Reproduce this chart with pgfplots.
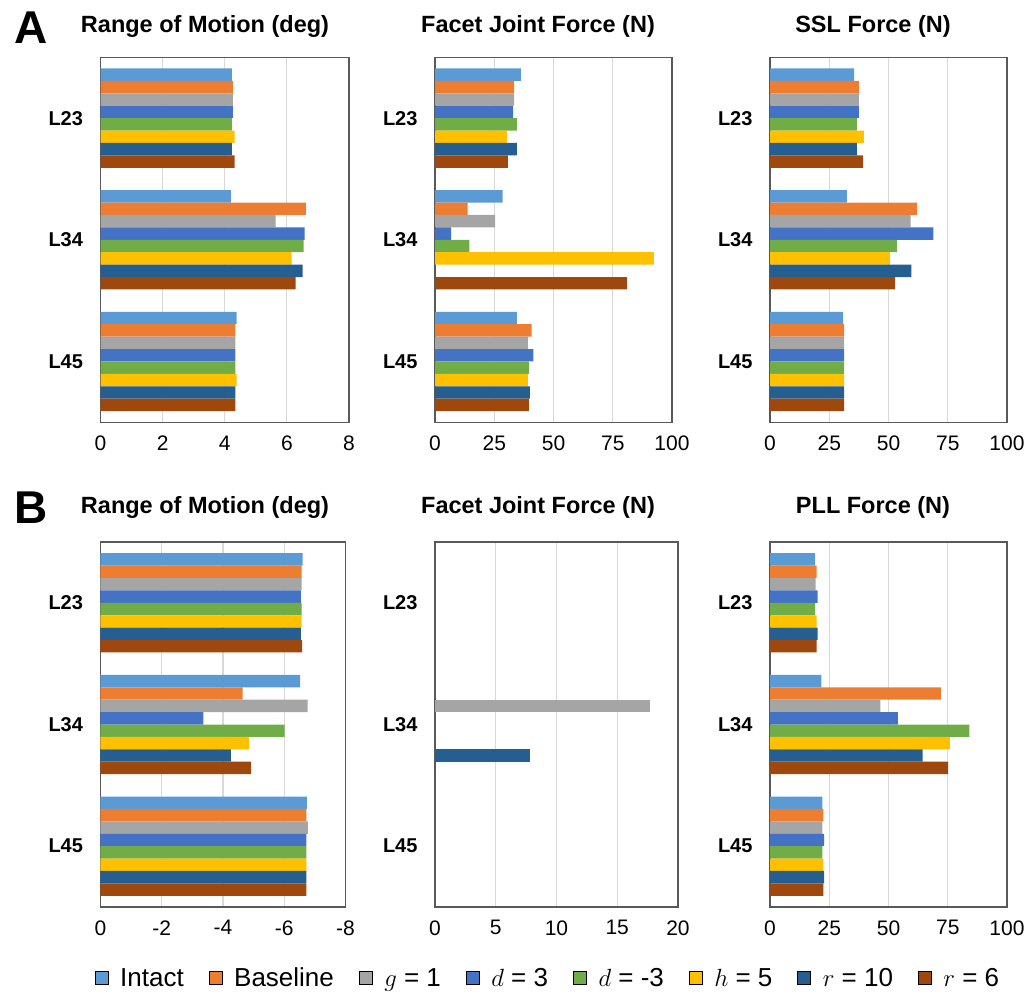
\documentclass[border=0pt]{standalone}
\usepackage{fontspec}
\setmainfont{Liberation Sans}
\usepackage{pgfplots}
\usepackage{pgfplotstable}
\pgfplotsset{compat=1.18}

\definecolor{cI}{HTML}{5B9BD5}
\definecolor{cB}{HTML}{ED7D31}
\definecolor{cG}{HTML}{A5A5A5}
\definecolor{cD}{HTML}{4472C4}
\definecolor{cDm}{HTML}{70AD47}
\definecolor{cH}{HTML}{FFC000}
\definecolor{cR}{HTML}{255E91}
\definecolor{cRs}{HTML}{9E480E}
\definecolor{gridc}{HTML}{D9D9D9}
\definecolor{framec}{HTML}{595959}

% Panel A: Range of Motion (deg)
\pgfplotstableread{
pos Intact Baseline g1 d3 dm3 h5 r10 r6
0 4.23 4.26 4.26 4.26 4.23 4.32 4.23 4.32
1 4.20 6.61 5.64 6.57 6.54 6.15 6.51 6.28
2 4.38 4.34 4.34 4.34 4.34 4.38 4.34 4.34
}\romA
% Panel A: Facet Joint Force (N)
\pgfplotstableread{
pos Intact Baseline g1 d3 dm3 h5 r10 r6
0 36.2 33.4 33.4 33.0 34.5 30.3 34.5 30.7
1 28.5 13.8 25.4 6.8 14.5 92.4 nan 81.1
2 34.5 40.8 39.2 41.5 39.6 39.2 40.0 39.6
}\facetA
% Panel A: SSL Force (N)
\pgfplotstableread{
pos Intact Baseline g1 d3 dm3 h5 r10 r6
0 35.5 37.5 37.5 37.5 36.6 39.6 36.6 39.3
1 32.4 62.0 59.3 68.9 53.5 50.6 59.7 52.8
2 30.8 31.3 31.3 31.3 31.3 31.3 31.3 31.3
}\sslA
% Panel B: Range of Motion (deg)
\pgfplotstableread{
pos Intact Baseline g1 d3 dm3 h5 r10 r6
0 -6.60 -6.57 -6.57 -6.54 -6.57 -6.57 -6.54 -6.58
1 -6.52 -4.64 -6.76 -3.36 -6.01 -4.85 -4.26 -4.92
2 -6.74 -6.72 -6.77 -6.72 -6.72 -6.72 -6.72 -6.72
}\romB
% Panel B: PLL Force (N)
\pgfplotstableread{
pos Intact Baseline g1 d3 dm3 h5 r10 r6
0 19.0 19.7 19.3 20.1 19.0 19.7 20.1 19.7
1 21.7 72.1 46.6 53.9 84.1 75.9 64.4 75.2
2 22.1 22.5 22.1 22.8 22.1 22.5 22.8 22.5
}\pllB

\pgfplotsset{
 panel/.style={
  scale only axis, height=365pt, xbar, bar width=0.102,
  y dir=reverse, ymin=-0.5, ymax=2.5, ytick={0,1,2}, yticklabels={L23,L34,L45},
  major tick length=0pt, xmajorgrids, ymajorgrids=false,
  grid style={draw=gridc, line width=1.2pt},
  axis line style={draw=framec, line width=1.5pt},
  /pgf/number format/assume math mode=true,
  scaled x ticks=false,
  xticklabel style={font=\fontsize{21}{21}\selectfont, yshift=-10pt},
  yticklabel style={font=\bfseries\fontsize{20}{20}\selectfont, xshift=-14pt},
  anchor=north west,
 },
 s1/.style={fill=cI, draw=none, bar shift=-0.357},
 s2/.style={fill=cB, draw=none, bar shift=-0.255},
 s3/.style={fill=cG, draw=none, bar shift=-0.153},
 s4/.style={fill=cD, draw=none, bar shift=-0.051},
 s5/.style={fill=cDm, draw=none, bar shift=0.051},
 s6/.style={fill=cH, draw=none, bar shift=0.153},
 s7/.style={fill=cR, draw=none, bar shift=0.255},
 s8/.style={fill=cRs, draw=none, bar shift=0.357},
}

\newcommand\eightbars[1]{%
 \addplot[s1] table[x=Intact,y=pos]{#1};
 \addplot[s2] table[x=Baseline,y=pos]{#1};
 \addplot[s3] table[x=g1,y=pos]{#1};
 \addplot[s4] table[x=d3,y=pos]{#1};
 \addplot[s5] table[x=dm3,y=pos]{#1};
 \addplot[s6] table[x=h5,y=pos]{#1};
 \addplot[s7] table[x=r10,y=pos]{#1};
 \addplot[s8] table[x=r6,y=pos]{#1};
}

\newcommand\ttl{\bfseries\fontsize{23.5}{24}\selectfont}

\begin{document}
\begin{tikzpicture}
\useasboundingbox (0pt,0pt) rectangle (1031pt,-995pt);

% ---- Row A ----
\begin{axis}[panel, at={(100.5pt,-57.3pt)}, width=248.5pt,
  xmin=0, xmax=8, xtick={0,2,4,6,8}]
 \eightbars{\romA}
\end{axis}
\begin{axis}[panel, at={(435pt,-57.3pt)}, width=237pt,
  xmin=0, xmax=100, xtick={0,25,50,75,100}]
 \eightbars{\facetA}
\end{axis}
\begin{axis}[panel, at={(770pt,-57.3pt)}, width=237pt,
  xmin=0, xmax=100, xtick={0,25,50,75,100}]
 \eightbars{\sslA}
\end{axis}

% ---- Row B ----
\begin{axis}[panel, at={(100.5pt,-542pt)}, width=245pt,
  xmin=-8, xmax=0, x dir=reverse, xtick={0,-2,-4,-6,-8}]
 \eightbars{\romB}
\end{axis}
\begin{axis}[panel, at={(435pt,-542pt)}, width=243pt,
  xmin=0, xmax=20, xtick={0,5,10,15,20},
  legend image code/.code={\fill[#1] (0pt,-6.5pt) rectangle (13pt,6.5pt);},
  legend style={at={(0.465,-0.195)}, anchor=center, draw=none, fill=none,
    legend columns=8, font=\fontsize{26}{26}\selectfont,
    /tikz/every odd column/.append style={column sep=10pt},
    /tikz/every even column/.append style={column sep=23pt}}]
 \addplot[s3, forget plot] coordinates {(17.72,1)};
 \addplot[s7, forget plot] coordinates {(7.80,1)};
 \addlegendimage{fill=cI}\addlegendentry{Intact}
 \addlegendimage{fill=cB}\addlegendentry{Baseline}
 \addlegendimage{fill=cG}\addlegendentry{$g$ = 1}
 \addlegendimage{fill=cD}\addlegendentry{$d$ = 3}
 \addlegendimage{fill=cDm}\addlegendentry{$d$ = -3}
 \addlegendimage{fill=cH}\addlegendentry{$h$ = 5}
 \addlegendimage{fill=cR}\addlegendentry{$r$ = 10}
 \addlegendimage{fill=cRs}\addlegendentry{$r$ = 6}
\end{axis}
\begin{axis}[panel, at={(770pt,-542pt)}, width=237pt,
  xmin=0, xmax=100, xtick={0,25,50,75,100}]
 \eightbars{\pllB}
\end{axis}

% ---- titles and panel letters ----
\node[font=\ttl, anchor=base] at (205pt,-33pt) {Range of Motion (deg)};
\node[font=\ttl, anchor=base] at (538pt,-33pt) {Facet Joint Force (N)};
\node[font=\ttl, anchor=base] at (873pt,-33pt) {SSL Force (N)};
\node[font=\ttl, anchor=base] at (205pt,-513pt) {Range of Motion (deg)};
\node[font=\ttl, anchor=base] at (538pt,-513pt) {Facet Joint Force (N)};
\node[font=\ttl, anchor=base] at (873pt,-513pt) {PLL Force (N)};
\node[font=\bfseries\fontsize{46}{46}\selectfont, anchor=base] at (31.5pt,-43.3pt) {A};
\node[font=\bfseries\fontsize{46}{46}\selectfont, anchor=base] at (31.5pt,-523pt) {B};
\end{tikzpicture}
\end{document}
